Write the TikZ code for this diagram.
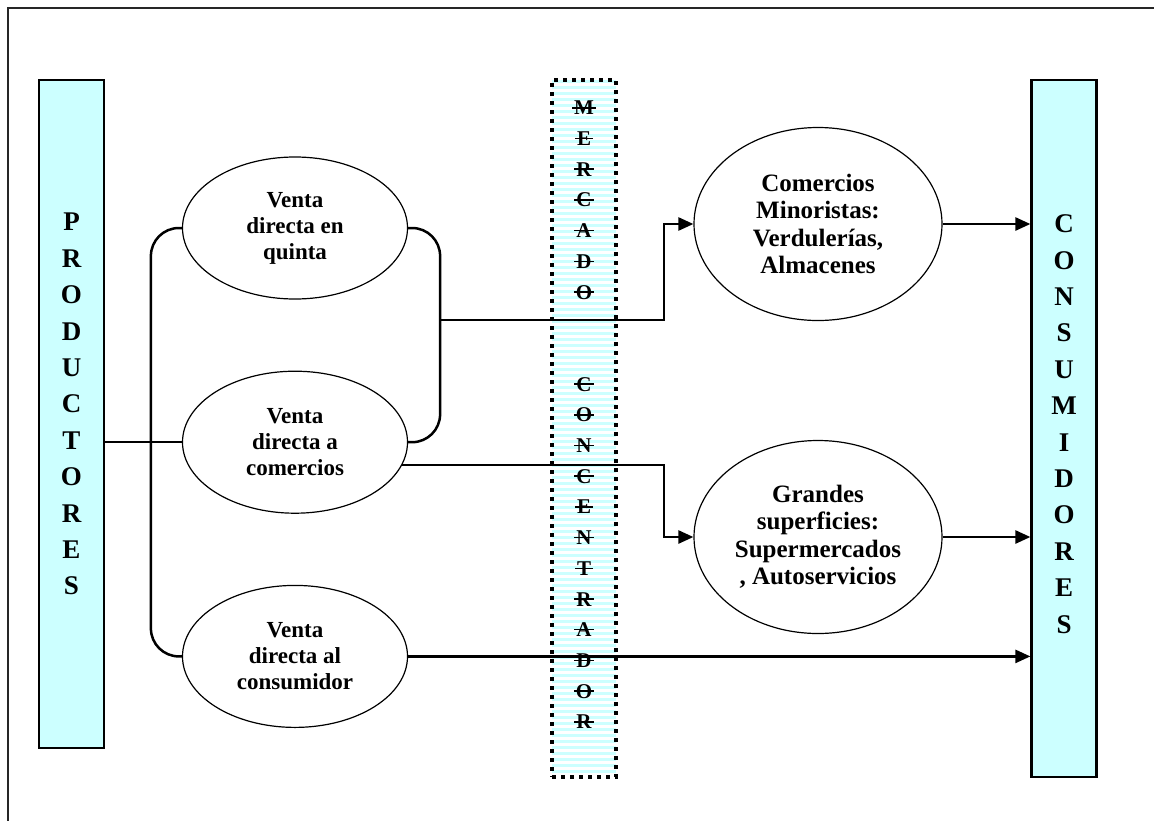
\documentclass[tikz,border=0pt]{standalone}
\usepackage{fontspec}
\setmainfont{Liberation Serif}
\usetikzlibrary{shapes,arrows.meta,positioning,calc}
\definecolor{celeste}{HTML}{CCFFFF}
\newsavebox\tachbox
\newcommand{\tachada}[1]{\sbox\tachbox{#1}\rlap{\kern-2pt\rule[0.3em]{\dimexpr\wd\tachbox+4pt\relax}{1.5pt}}\usebox\tachbox}

\begin{document}
\begin{tikzpicture}[x=1pt, y=-1pt, node distance=71pt,
        lado/.style={rectangle, draw, line width=2.2pt, fill=celeste, minimum width=65pt, inner sep=0pt, align=center, font=\fontsize{27}{36.4}\selectfont\bfseries},
        mercado/.style={rectangle, draw, dash pattern=on 4pt off 5pt, line width=4pt, minimum width=64pt, minimum height=697pt, inner sep=0pt, align=center, font=\fontsize{21}{30.7}\selectfont\bfseries},
        venta/.style={ellipse, draw, line width=1.2pt, minimum width=225pt, minimum height=142pt, inner sep=0pt, align=center, font=\fontsize{23}{26}\selectfont\bfseries},
        canal/.style={venta, minimum width=248pt, minimum height=193pt, font=\fontsize{25}{27.5}\selectfont\bfseries},
        flujo/.style={draw, line width=2.5pt},
        flecha/.style={flujo, -{Triangle[length=15pt,width=13pt]}}]
        \useasboundingbox (0,0) rectangle (1154,820);
        \clip (0,0) rectangle (1154,820);
        \draw[line width=2pt, black!85] (8,830) -- (8,8) -- (1164,8);

        \node [lado, minimum height=668pt, text depth=20pt] (prod) at (71.5,414) {P\\R\\O\\D\\U\\C\\T\\O\\R\\E\\S};
        \node [lado, minimum height=697pt, text depth=9pt] (cons) at (1064,428.5) {C\\O\\N\\S\\U\\M\\I\\D\\O\\R\\E\\S};

        % franjas del mercado concentrador
        \foreach \y in {80,86,...,772}
            \fill [celeste] (552,\y) rectangle (616,\y+3);
        \node [mercado, text depth=27pt] (merc) at (584,428.5) {\tachada{M}\\\tachada{E}\\\tachada{R}\\\tachada{C}\\\tachada{A}\\\tachada{D}\\\tachada{O}\\[61.4pt]\tachada{C}\\\tachada{O}\\\tachada{N}\\\tachada{C}\\\tachada{E}\\\tachada{N}\\\tachada{T}\\\tachada{R}\\\tachada{A}\\\tachada{D}\\\tachada{O}\\\tachada{R}};

        \node [venta] (quinta) at (295,228) {Venta\\directa en\\quinta};
        \node [venta, below=of quinta] (comer) {Venta\\directa a\\comercios};
        \node [venta, below=of comer] (consu) {Venta\\directa al\\consumidor};

        \node [canal] (minor) at (818,224) {Comercios\\Minoristas:\\Verdulerías,\\Almacenes};
        \node [canal] (grandes) at (818,537) {Grandes\\superficies:\\Supermercados\\, Autoservicios};

        \coordinate (union) at (440,320);
        \coordinate (codo) at (664,320);

        \draw [flujo] (prod.east |- comer.west) -- (comer.west);
        \draw [flujo, rounded corners=28pt] (quinta.west) -- ++(-31,0) |- (consu.west);
        \draw [flujo, rounded corners=28pt] (quinta.east) -- ++(32,0) |- (comer.east);
        \draw [flecha] (union) -- (codo) |- (minor.west);
        \draw [flecha] (comer.-12) -- (comer.-12 -| codo) |- (grandes.west);
        \draw [flecha] (minor.east) -- (minor.east -| cons.west);
        \draw [flecha] (grandes.east) -- (grandes.east -| cons.west);
        \draw [flecha] (consu.east) -- (consu.east -| cons.west);
    \end{tikzpicture}
\end{document}
